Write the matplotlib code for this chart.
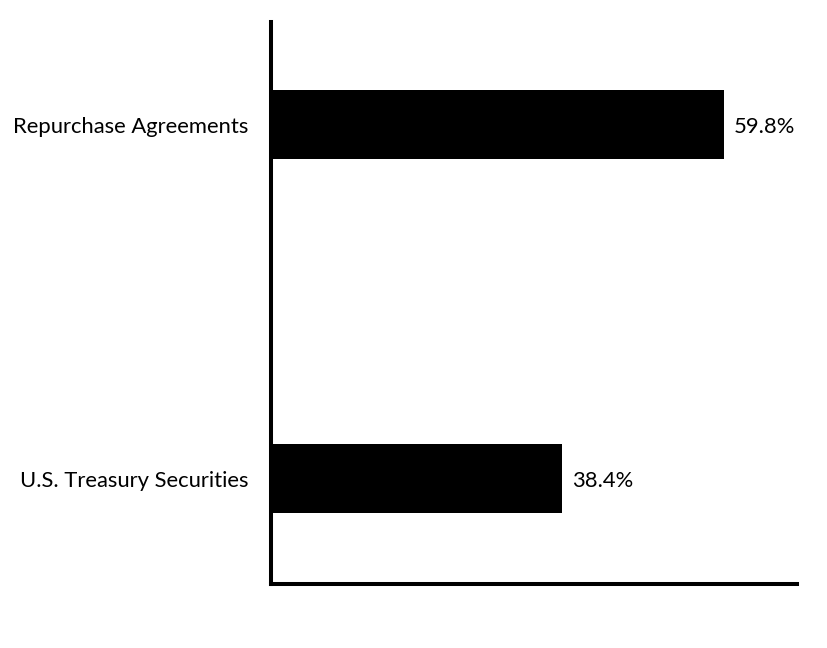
import matplotlib.pyplot as plt

categories = ["U.S. Treasury Securities", "Repurchase Agreements"]
values = [38.4, 59.8]
value_labels = ["38.4%", "59.8%"]

plt.rcParams['font.family'] = ['Lato', 'DejaVu Sans']

fig = plt.figure(figsize=(8.28, 6.48), dpi=100)
ax = fig.add_axes([0.3273, 0.0985, 0.6353, 0.8676])

ax.barh(range(len(categories)), values, height=0.195, color='black')

for i, (v, lab) in enumerate(zip(values, value_labels)):
    ax.text(v + 1.3, i, lab, va='center_baseline', ha='left', fontsize=15.8)

ax.set_yticks(range(len(categories)))
ax.set_yticklabels(categories, fontsize=15.8, va='center_baseline')
ax.tick_params(axis='y', length=0, pad=16)
ax.set_xticks([])
ax.set_xlim(0, 69.4)
ax.set_ylim(-0.2975, 1.2905)

for side in ['top', 'right']:
    ax.spines[side].set_visible(False)
for side in ['left', 'bottom']:
    ax.spines[side].set_linewidth(2.9)

fig.savefig('out.png', dpi=100)
